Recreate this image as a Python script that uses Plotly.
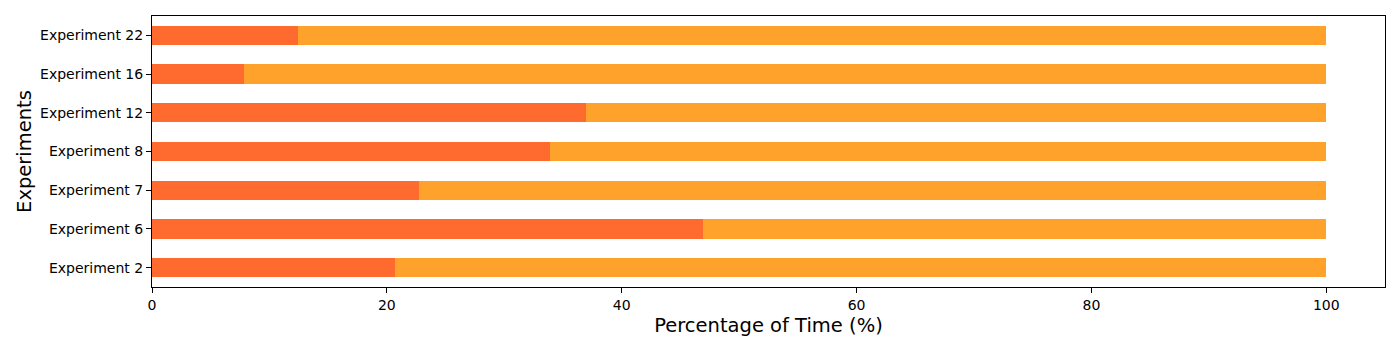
import plotly.graph_objects as go

experiments = ["Experiment 2", "Experiment 6", "Experiment 7", "Experiment 8",
               "Experiment 12", "Experiment 16", "Experiment 22"]
part_a = [20.7, 46.9, 22.7, 33.9, 37.0, 7.8, 12.4]
part_b = [100 - v for v in part_a]
x_ticks = [0, 20, 40, 60, 80, 100]

fig = go.Figure()
fig.add_trace(go.Bar(y=experiments, x=part_a, orientation="h", width=0.5,
                     marker=dict(color="#FF6A2E", line=dict(width=0)), showlegend=False))
fig.add_trace(go.Bar(y=experiments, x=part_b, orientation="h", width=0.5,
                     marker=dict(color="#FFA22B", line=dict(width=0)), showlegend=False))

fig.update_layout(
    barmode="stack",
    width=1384, height=334,
    margin=dict(l=144, r=7, t=8, b=55),
    plot_bgcolor="white", paper_bgcolor="white",
    font=dict(family="DejaVu Sans", color="black", size=14),
)
fig.update_xaxes(range=[0, 105], tickvals=x_ticks, ticks="outside", ticklen=5,
                 tickcolor="black", showline=True, linecolor="black", linewidth=1,
                 mirror=True, showgrid=False, zeroline=False,
                 title=dict(text="Percentage of Time (%)", font=dict(size=19.5), standoff=6),
                 tickfont=dict(size=14))
fig.update_yaxes(range=[-0.5, 6.5], categoryorder="array", categoryarray=experiments,
                 ticks="outside", ticklen=5, tickcolor="black", showline=True,
                 linecolor="black", linewidth=1, mirror=True, showgrid=False,
                 title=dict(text="Experiments", font=dict(size=19.5), standoff=3),
                 tickfont=dict(size=14))

fig.write_html("out.html")
